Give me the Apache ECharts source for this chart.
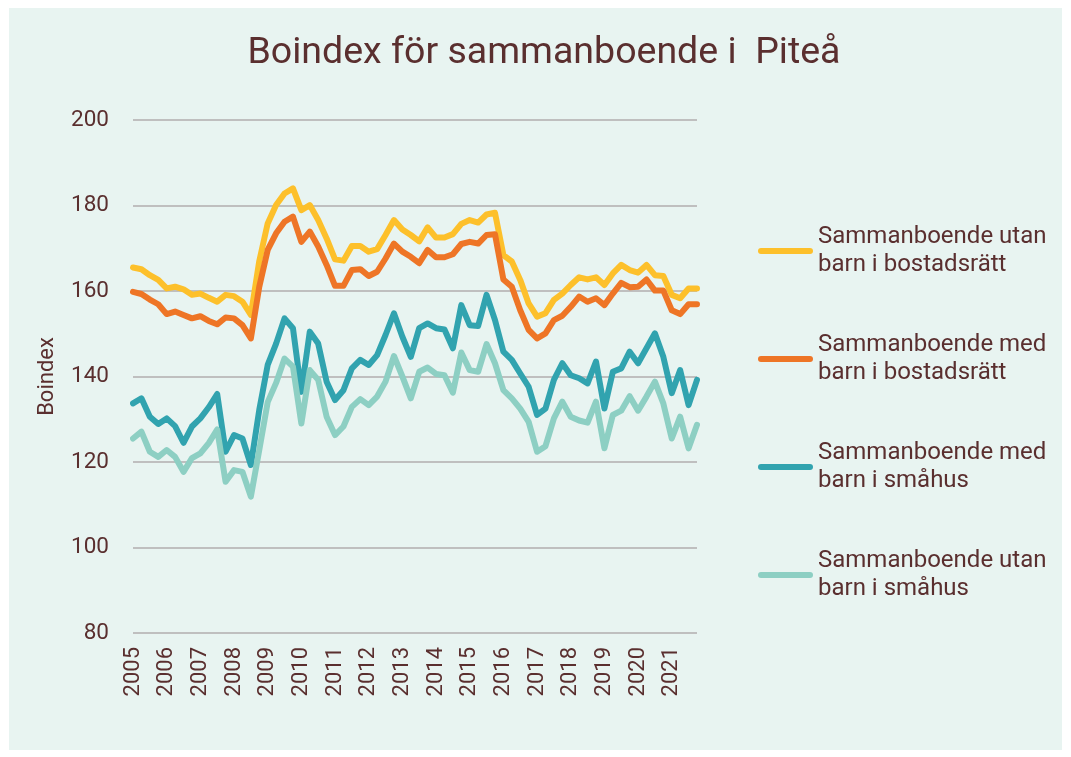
<!DOCTYPE html>
<html>
<head>
<meta charset="utf-8">
<script src="https://cdn.jsdelivr.net/npm/echarts@6/dist/echarts.min.js"></script>
<style>
  html, body { margin: 0; padding: 0; background: #ffffff; }
  #panel { position: absolute; left: 9px; top: 8px; width: 1053px; height: 742px; background: #E8F4F1; }
  #chart { position: absolute; left: 0; top: 0; width: 1071px; height: 757px; }
</style>
</head>
<body>
<div id="panel"></div>
<div id="chart"></div>
<script>
// Quarterly periods 2005 K1 – 2021 K4
const years = [];
for (let y = 2005; y <= 2021; y++) years.push(String(y));
const quarters = [];
years.forEach(y => { for (let q = 1; q <= 4; q++) quarters.push(y + 'K' + q); });

const seriesNames = [
  'Sammanboende utan\nbarn i bostadsrätt',
  'Sammanboende med\nbarn i bostadsrätt',
  'Sammanboende med\nbarn i småhus',
  'Sammanboende utan\nbarn i småhus'
];

const utanBarnBostadsratt = [
  165.5, 165.1, 163.7, 162.6, 160.6, 161.0, 160.4, 159.1, 159.4, 158.4, 157.5, 159.1, 158.8, 157.5, 154.4, 167.0,
  175.8, 180.1, 182.8, 184.0, 178.9, 180.1, 176.6, 172.3, 167.4, 167.1, 170.5, 170.5, 169.2, 169.8, 173.1, 176.6,
  174.4, 173.1, 171.6, 174.9, 172.5, 172.5, 173.3, 175.7, 176.6, 176.0, 177.9, 178.3, 168.4, 166.9, 162.6, 157.1,
  154.0, 154.8, 157.9, 159.4, 161.4, 163.2, 162.7, 163.2, 161.4, 164.1, 166.1, 164.9, 164.3, 166.1, 163.7, 163.5,
  159.1, 158.3, 160.6, 160.6
];

const medBarnBostadsratt = [
  159.8, 159.3, 158.0, 156.9, 154.6, 155.2, 154.4, 153.6, 154.1, 153.0, 152.2, 153.8, 153.6, 152.0, 148.9, 161.0,
  169.6, 173.5, 176.2, 177.4, 171.5, 173.9, 170.4, 166.1, 161.2, 161.2, 164.9, 165.1, 163.5, 164.5, 167.6, 171.1,
  169.2, 168.0, 166.5, 169.6, 167.9, 167.9, 168.6, 171.0, 171.5, 171.1, 173.1, 173.3, 162.7, 161.0, 155.5, 150.9,
  148.9, 150.1, 153.2, 154.2, 156.3, 158.7, 157.5, 158.3, 156.7, 159.4, 161.9, 160.9, 161.0, 162.7, 160.1, 160.1,
  155.5, 154.6, 156.9, 156.9
];

const medBarnSmahus = [
  133.7, 134.9, 130.6, 128.9, 130.2, 128.4, 124.5, 128.3, 130.2, 132.8, 135.9, 122.4, 126.3, 125.5, 119.3, 132.2,
  142.7, 147.7, 153.6, 151.3, 136.4, 150.5, 147.7, 138.8, 134.5, 136.8, 141.9, 143.9, 142.7, 145.0, 149.7, 154.8,
  149.3, 144.6, 151.3, 152.4, 151.3, 151.0, 146.6, 156.7, 152.0, 151.8, 159.1, 153.2, 145.8, 143.9, 140.7, 137.6,
  131.0, 132.5, 139.2, 143.1, 140.3, 139.6, 138.4, 143.5, 132.5, 141.1, 141.9, 145.8, 143.1, 146.6, 150.1, 144.6,
  136.1, 141.5, 133.3, 139.2
];

const utanBarnSmahus = [
  125.5, 127.1, 122.4, 121.2, 122.8, 121.2, 117.7, 120.9, 122.0, 124.4, 127.6, 115.4, 118.1, 117.7, 111.9, 122.8,
  134.0, 138.5, 144.2, 142.3, 129.0, 141.5, 139.2, 130.6, 126.3, 128.3, 132.9, 134.7, 133.3, 135.3, 138.8, 144.8,
  140.0, 134.9, 141.1, 142.1, 140.6, 140.3, 136.2, 145.6, 141.5, 141.1, 147.6, 143.1, 136.8, 134.9, 132.5, 129.4,
  122.4, 123.7, 130.2, 134.1, 130.6, 129.7, 129.2, 134.1, 123.2, 131.0, 132.0, 135.4, 132.0, 135.3, 138.8, 133.7,
  125.5, 130.6, 123.2, 128.7
];

const seriesValues = [utanBarnBostadsratt, medBarnBostadsratt, medBarnSmahus, utanBarnSmahus];
const colors = ['#FDC02B', '#EE7526', '#31A3AF', '#8DCFC3'];

const textColor = '#5A2F2F';
const fontFamily = 'Roboto, "Noto Sans", sans-serif';

const chart = echarts.init(document.getElementById('chart'), null, { renderer: 'canvas' });

chart.setOption({
  backgroundColor: 'transparent',
  animation: false,
  textStyle: { fontFamily: fontFamily, color: textColor },
  color: colors,
  title: {
    text: 'Boindex för sammanboende i  Piteå',
    left: 539,
    top: 30,
    textAlign: 'center',
    textStyle: { fontFamily: fontFamily, fontSize: 37.5, fontWeight: 'normal', color: textColor }
  },
  legend: {
    orient: 'vertical',
    left: 758,
    top: 209,
    padding: 0,
    itemWidth: 55,
    itemHeight: 6,
    itemGap: 24,
    icon: 'path://M3,0 L52,0 A3,3 0 0 1 52,6 L3,6 A3,3 0 0 1 3,0 Z',
    textStyle: {
      fontFamily: fontFamily,
      fontSize: 24,
      lineHeight: 28,
      color: textColor,
      padding: [28, 0, 0, 0]
    },
    data: seriesNames
  },
  grid: { left: 133, right: 374, top: 120, bottom: 124, containLabel: false },
  xAxis: {
    type: 'category',
    data: quarters,
    boundaryGap: false,
    axisLine: { show: false },
    axisTick: { show: false },
    axisLabel: {
      interval: 3,
      rotate: 90,
      margin: 14,
      fontSize: 22,
      color: textColor,
      fontFamily: fontFamily,
      formatter: v => v.slice(0, 4)
    },
    splitLine: { show: false }
  },
  yAxis: {
    type: 'value',
    min: 80,
    max: 200,
    interval: 20,
    name: 'Boindex',
    nameLocation: 'middle',
    nameGap: 75,
    nameTextStyle: { fontFamily: fontFamily, fontSize: 22, color: textColor },
    axisLine: { show: false },
    axisTick: { show: false },
    axisLabel: { margin: 24, fontSize: 22.5, color: textColor, fontFamily: fontFamily },
    splitLine: { lineStyle: { color: '#BFBFBF', width: 2 } }
  },
  series: seriesValues.map((vals, k) => ({
    name: seriesNames[k],
    type: 'line',
    data: vals,
    showSymbol: false,
    symbol: 'none',
    lineStyle: { width: 6, color: colors[k], join: 'round', cap: 'round' },
    itemStyle: { color: colors[k] }
  }))
});
</script>
</body>
</html>
